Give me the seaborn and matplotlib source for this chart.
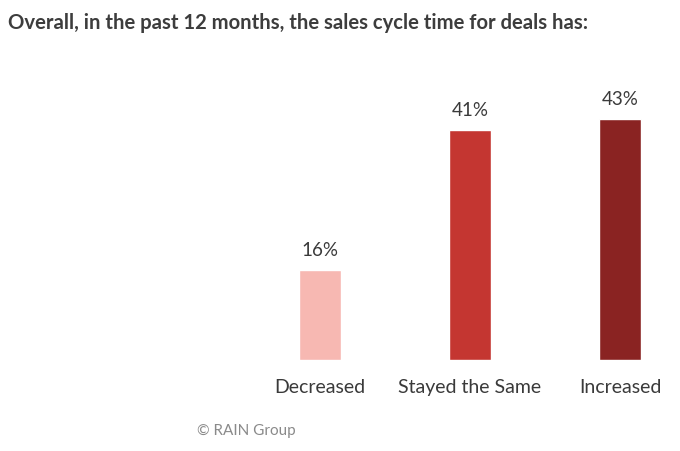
import matplotlib
matplotlib.use('Agg')
import matplotlib.pyplot as plt
import seaborn as sns

# Data
categories = ['Decreased', 'Stayed the Same', 'Increased']
values = [16, 41, 43]
colors = ['#F7B8B2', '#C43631', '#8A2322']

sns.set_style('white')
plt.rcParams['font.family'] = ['Lato', 'DejaVu Sans']

fig = plt.figure(figsize=(6.8, 4.51), dpi=100)
ax = fig.add_axes([245 / 680, 91 / 451, 435 / 680, 280 / 451])

sns.barplot(x=categories, y=values, hue=categories, palette=colors,
            width=0.28, legend=False, ax=ax, saturation=1)

ax.set_xlim(-0.5, 2.4)
ax.set_ylim(0, 50)

# Value labels above bars
for i, v in enumerate(values):
    ax.text(i, v + 2, f'{v}%', ha='center', va='bottom', fontsize=13.5, color='#3a3a3a')

ax.set_xlabel('')
ax.set_ylabel('')
ax.set_yticks([])
ax.tick_params(axis='x', length=0, pad=14, labelsize=14, labelcolor='#3a3a3a')
sns.despine(ax=ax, left=True, bottom=True)

fig.text(8 / 680, 1 - 23 / 451, 'Overall, in the past 12 months, the sales cycle time for deals has:',
         fontsize=14.6, fontweight='bold', color='#3d3d3d', va='center', ha='left')
fig.text(197 / 680, 1 - 431 / 451, '© RAIN Group', fontsize=11, color='#8a8a8a',
         va='center', ha='left')

fig.savefig('out.png', dpi=100)
